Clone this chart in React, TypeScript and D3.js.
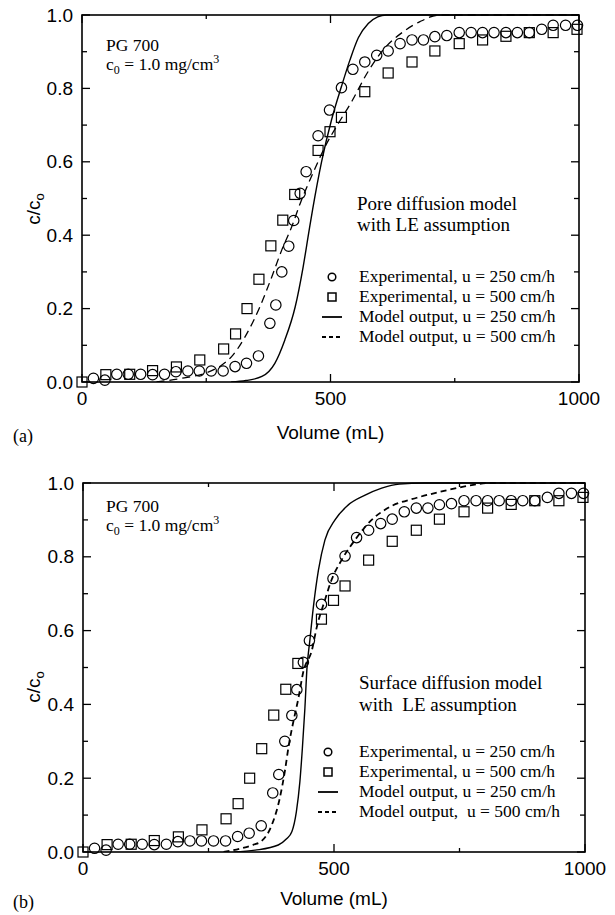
import React from 'react';
import * as d3 from 'd3';

type Pt = [number, number];

const X_MAJOR = [0, 500, 1000];
const X_MINOR = [250, 750];
const Y_MAJOR = [0, 0.2, 0.4, 0.6, 0.8, 1.0];
const Y_MINOR = [0.1, 0.3, 0.5, 0.7, 0.9];

// experimental breakthrough points (volume mL, c/c0) - same runs in both panels
const EXP_250: Pt[] = [
  [23, 0.01], [46, 0.005], [70, 0.021], [93, 0.021], [118, 0.021], [142, 0.02], [166, 0.021],
  [189, 0.028], [213, 0.03], [236, 0.03], [260, 0.03], [284, 0.03], [308, 0.042], [331, 0.051],
  [355, 0.071], [378, 0.16], [390, 0.21], [402, 0.3], [416, 0.37], [426, 0.44], [439, 0.514],
  [451, 0.573], [475, 0.671], [498, 0.741], [522, 0.802], [545, 0.852], [569, 0.872], [593, 0.89],
  [616, 0.902], [640, 0.922], [664, 0.932], [687, 0.932], [710, 0.941], [734, 0.944], [759, 0.952],
  [783, 0.952], [806, 0.952], [829, 0.952], [853, 0.952], [876, 0.952], [900, 0.952], [925, 0.961],
  [948, 0.972], [973, 0.972], [997, 0.972],
];

const EXP_500: Pt[] = [
  [0, 0.0], [48, 0.02], [96, 0.021], [142, 0.031], [190, 0.041], [237, 0.06], [285, 0.09],
  [309, 0.131], [332, 0.2], [356, 0.28], [380, 0.371], [404, 0.441], [428, 0.511], [475, 0.631],
  [499, 0.682], [522, 0.721], [569, 0.791], [616, 0.842], [664, 0.872], [710, 0.902], [759, 0.922],
  [806, 0.932], [853, 0.942], [900, 0.952], [948, 0.952], [996, 0.961],
];

// pore diffusion model curves (panel a)
const PORE_250: Pt[] = [
  [300, 0], [330, 0.004], [362, 0.015], [388, 0.051], [408, 0.114], [429, 0.205], [445, 0.314],
  [456, 0.405], [464, 0.47], [482, 0.6], [502, 0.714], [522, 0.805], [539, 0.877], [556, 0.938],
  [576, 0.977], [595, 0.995], [612, 1.0], [1000, 1.0],
];

const PORE_500: Pt[] = [
  [150, 0], [200, 0.01], [250, 0.025], [280, 0.045], [301, 0.069], [328, 0.123], [358, 0.205],
  [382, 0.287], [402, 0.36], [422, 0.423], [440, 0.49], [465, 0.57], [489, 0.641], [516, 0.705],
  [543, 0.765], [573, 0.84], [606, 0.905], [647, 0.955], [680, 0.982], [720, 1.0], [1000, 1.0],
];

// surface diffusion model curves (panel b)
const SURF_250: Pt[] = [
  [300, 0], [343, 0.005], [389, 0.019], [405, 0.035], [416, 0.055], [425, 0.109], [432, 0.19],
  [437, 0.281], [442, 0.389], [446, 0.495], [452, 0.575], [459, 0.665], [469, 0.764], [482, 0.846],
  [502, 0.9], [528, 0.94], [562, 0.967], [595, 0.986], [630, 0.997], [680, 1.0], [1000, 1.0],
];

const SURF_500: Pt[] = [
  [280, 0], [315, 0.01], [340, 0.02], [356, 0.03], [376, 0.073], [392, 0.146], [402, 0.218],
  [410, 0.29], [419, 0.353], [429, 0.416], [439, 0.489], [456, 0.547], [466, 0.611], [482, 0.683],
  [495, 0.737], [515, 0.791], [542, 0.846], [575, 0.9], [607, 0.932], [665, 0.96], [711, 0.976],
  [758, 0.99], [811, 1.0], [1000, 1.0],
];

const LEGEND_A = [
  'Experimental, u = 250 cm/h',
  'Experimental, u = 500 cm/h',
  'Model output, u = 250 cm/h',
  'Model output, u = 500 cm/h',
];
const LEGEND_B = [
  'Experimental, u = 250 cm/h',
  'Experimental, u = 500 cm/h',
  'Model output, u = 250 cm/h',
  'Model output, \u00a0u = 500 cm/h',
];

const SANS = "'Liberation Sans', Arial, Helvetica, sans-serif";
const SERIF = "'Liberation Serif', 'Times New Roman', Times, serif";

function Panel({ id, box, m250, m500, dash, dashW, title, legend, tag, pg, leg, titlePos, ylabY, xlabY, tagY }: any) {
  const x = d3.scaleLinear().domain([0, 1000]).range([box.l, box.r]);
  const y = d3.scaleLinear().domain([0, 1]).range([box.b, box.t]);
  const line = d3.line<Pt>().x(d => x(d[0])).y(d => y(d[1])).curve(d3.curveMonotoneX);
  const sq = 10;

  return (
    <g>
      <defs>
        <clipPath id={'clip-' + id}>
          <rect x={box.l} y={box.t - 1} width={box.r - box.l} height={box.b - box.t + 1} />
        </clipPath>
      </defs>

      {/* model lines */}
      <g clipPath={`url(#clip-${id})`} fill="none" stroke="#000">
        <path d={line(m250) || ''} strokeWidth={1.4} />
        <path d={line(m500) || ''} strokeWidth={dashW} strokeDasharray={dash} />
      </g>

      {/* markers */}
      <g fill="none" stroke="#000" strokeWidth={1.2}>
        {EXP_250.map((d, i) => <circle key={'c' + i} cx={x(d[0])} cy={y(d[1])} r={5.2} />)}
        {EXP_500.map((d, i) => (
          <rect key={'s' + i} x={x(d[0]) - sq / 2} y={y(d[1]) - sq / 2} width={sq} height={sq} />
        ))}
      </g>

      {/* frame + ticks */}
      <rect x={box.l} y={box.t} width={box.r - box.l} height={box.b - box.t} fill="none" stroke="#000" strokeWidth={1.6} />
      <g stroke="#000" strokeWidth={1.3}>
        {X_MAJOR.map(v => (
          <g key={'xm' + v}>
            <line x1={x(v)} x2={x(v)} y1={box.b} y2={box.b - 8} />
            <line x1={x(v)} x2={x(v)} y1={box.t} y2={box.t + 8} />
          </g>
        ))}
        {X_MINOR.map(v => (
          <g key={'xn' + v}>
            <line x1={x(v)} x2={x(v)} y1={box.b} y2={box.b - 4} />
            <line x1={x(v)} x2={x(v)} y1={box.t} y2={box.t + 4} />
          </g>
        ))}
        {Y_MAJOR.map(v => (
          <g key={'ym' + v}>
            <line x1={box.l} x2={box.l + 8} y1={y(v)} y2={y(v)} />
            <line x1={box.r} x2={box.r - 8} y1={y(v)} y2={y(v)} />
          </g>
        ))}
        {Y_MINOR.map(v => (
          <g key={'yn' + v}>
            <line x1={box.l} x2={box.l + 5} y1={y(v)} y2={y(v)} />
            <line x1={box.r} x2={box.r - 5} y1={y(v)} y2={y(v)} />
          </g>
        ))}
      </g>

      {/* tick labels */}
      <g fontFamily={SANS} fontSize={19} fill="#000">
        {X_MAJOR.map(v => (
          <text key={'xl' + v} x={x(v)} y={box.b + 23} textAnchor="middle">{v}</text>
        ))}
        {Y_MAJOR.map(v => (
          <text key={'yl' + v} x={box.l - 9} y={y(v)} dy="0.35em" textAnchor="end">{d3.format('.1f')(v)}</text>
        ))}
        <text x={(box.l + box.r) / 2} y={xlabY} textAnchor="middle">Volume (mL)</text>
        <text transform={`translate(40,${ylabY}) rotate(-90)`} textAnchor="middle">
          c/c<tspan fontSize={13} dy={4}>o</tspan>
        </text>
      </g>

      {/* annotations */}
      <g fontFamily={SERIF} fill="#000">
        <text x={pg[0]} y={pg[1]} fontSize={17.5}>PG 700</text>
        <text x={pg[0]} y={pg[2]} fontSize={17.5}>
          c<tspan fontSize={12} dy={4}>0</tspan>
          <tspan dy={-4}> = 1.0 mg/cm</tspan>
          <tspan fontSize={12} dy={-7}>3</tspan>
        </text>
        <text x={titlePos[0]} y={titlePos[1]} fontSize={19}>{title[0]}</text>
        <text x={titlePos[0]} y={titlePos[2]} fontSize={19}>{title[1]}</text>
        {legend.map((s: string, i: number) => (
          <text key={'lg' + i} x={leg.tx} y={leg.y0 + i * 20} fontSize={17.5}>{s}</text>
        ))}
        <text x={13} y={tagY} fontSize={18}>{tag}</text>
      </g>

      {/* legend symbols */}
      <g fill="none" stroke="#000">
        <circle cx={leg.mx} cy={leg.y0 - 5} r={3.8} strokeWidth={1.5} />
        <rect x={leg.mx - 4} y={leg.y0 + 20 - 9} width={8} height={8} strokeWidth={1.5} />
        <line x1={leg.mx - 10} x2={leg.mx + 10} y1={leg.y0 + 40 - 5} y2={leg.y0 + 40 - 5} strokeWidth={1.8} />
        <line x1={leg.mx - 10} x2={leg.mx + 10} y1={leg.y0 + 60 - 5} y2={leg.y0 + 60 - 5} strokeWidth={1.8} strokeDasharray="4,3" />
      </g>
    </g>
  );
}

export default function App() {
  return (
    <svg width={615} height={915} viewBox="0 0 615 915" style={{ position: 'absolute', left: 0, top: 0, background: '#fff' }}>
      <Panel
        id="a"
        box={{ l: 82, r: 579, t: 15, b: 382 }}
        m250={PORE_250}
        m500={PORE_500}
        dash="8,5"
        dashW={1.3}
        title={['Pore diffusion model', 'with LE assumption']}
        legend={LEGEND_A}
        tag="(a)"
        pg={[106, 50.7, 69.5]}
        titlePos={[357, 210, 231]}
        leg={{ mx: 332, tx: 359, y0: 282 }}
        ylabY={209}
        xlabY={439}
        tagY={442}
      />
      <Panel
        id="b"
        box={{ l: 83, r: 585, t: 483, b: 852 }}
        m250={SURF_250}
        m500={SURF_500}
        dash="6,4"
        dashW={1.8}
        title={['Surface diffusion model', 'with \u00a0LE assumption']}
        legend={LEGEND_B}
        tag="(b)"
        pg={[106, 511.7, 530.5]}
        titlePos={[359, 689, 711]}
        leg={{ mx: 328, tx: 359, y0: 757 }}
        ylabY={687}
        xlabY={905}
        tagY={908}
      />
    </svg>
  );
}
